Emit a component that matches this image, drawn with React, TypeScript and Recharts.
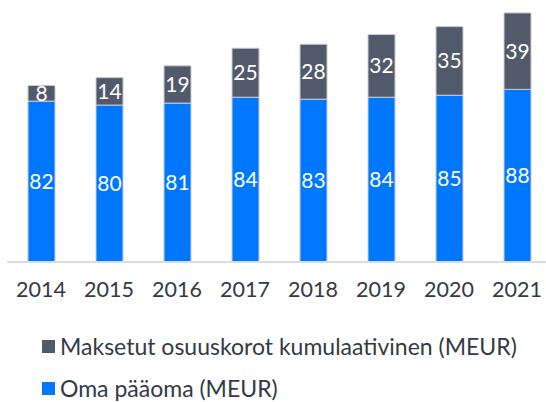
import { BarChart, Bar, XAxis, YAxis, LabelList } from 'recharts'

const years = ['2014', '2015', '2016', '2017', '2018', '2019', '2020', '2021']
const omaPaaoma = [82, 80, 81, 84, 83, 84, 85, 88]
const osuuskorot = [8, 14, 19, 25, 28, 32, 35, 39]

const COR_OMA = '#0077FF'
const COR_KOROT = '#515A6B'
const FONTE = 'Lato, "Open Sans", sans-serif'

const dados = years.map((v, i) => ({ vuosi: v, oma: omaPaaoma[i], korot: osuuskorot[i] }))

const legendaItens = [
  { nome: 'Maksetut osuuskorot kumulaativinen (MEUR)', cor: COR_KOROT },
  { nome: 'Oma pääoma (MEUR)', cor: COR_OMA },
]

// legenda fora do gráfico, para não roubar altura da área de plotagem
function Legenda() {
  return (
    <div style={{ position: 'absolute', left: 42, top: 334, display: 'flex', flexDirection: 'column', gap: '18px' }}>
      {legendaItens.map(item => (
        <div key={item.nome} style={{ display: 'flex', alignItems: 'center', gap: '5px', height: '24px' }}>
          <div style={{ width: '13px', height: '13px', backgroundColor: item.cor }} />
          <span style={{ fontFamily: FONTE, fontSize: '23px', color: '#333a45', lineHeight: '24px', whiteSpace: 'nowrap' }}>{item.nome}</span>
        </div>
      ))}
    </div>
  )
}

export default function App() {
  return (
    <div style={{ position: 'absolute', left: 0, top: 0, width: 546, height: 402, overflow: 'hidden', background: '#fff' }}>
      <BarChart width={560} height={402} data={dados} margin={{ top: 7, right: 9, left: 7, bottom: 110 }} barSize={27}>
        <XAxis
          dataKey="vuosi"
          tickLine={false}
          axisLine={{ stroke: '#d9dde3', strokeWidth: 2 }}
          tick={{ fontSize: 21.5, fontFamily: FONTE, fill: '#333a45' }}
          tickMargin={14}
          interval={0}
        />
        <YAxis hide domain={[0, 130]} />
        <Bar dataKey="oma" stackId="a" fill={COR_OMA} stroke="#c8ccd4" strokeWidth={1} isAnimationActive={false}>
          <LabelList dataKey="oma" position="center" fill="#fff" fontSize={21} fontFamily={FONTE} />
        </Bar>
        <Bar dataKey="korot" stackId="a" fill={COR_KOROT} stroke="#c8ccd4" strokeWidth={1} isAnimationActive={false}>
          <LabelList dataKey="korot" position="center" fill="#fff" fontSize={21} fontFamily={FONTE} />
        </Bar>
      </BarChart>
      <Legenda />
    </div>
  )
}
